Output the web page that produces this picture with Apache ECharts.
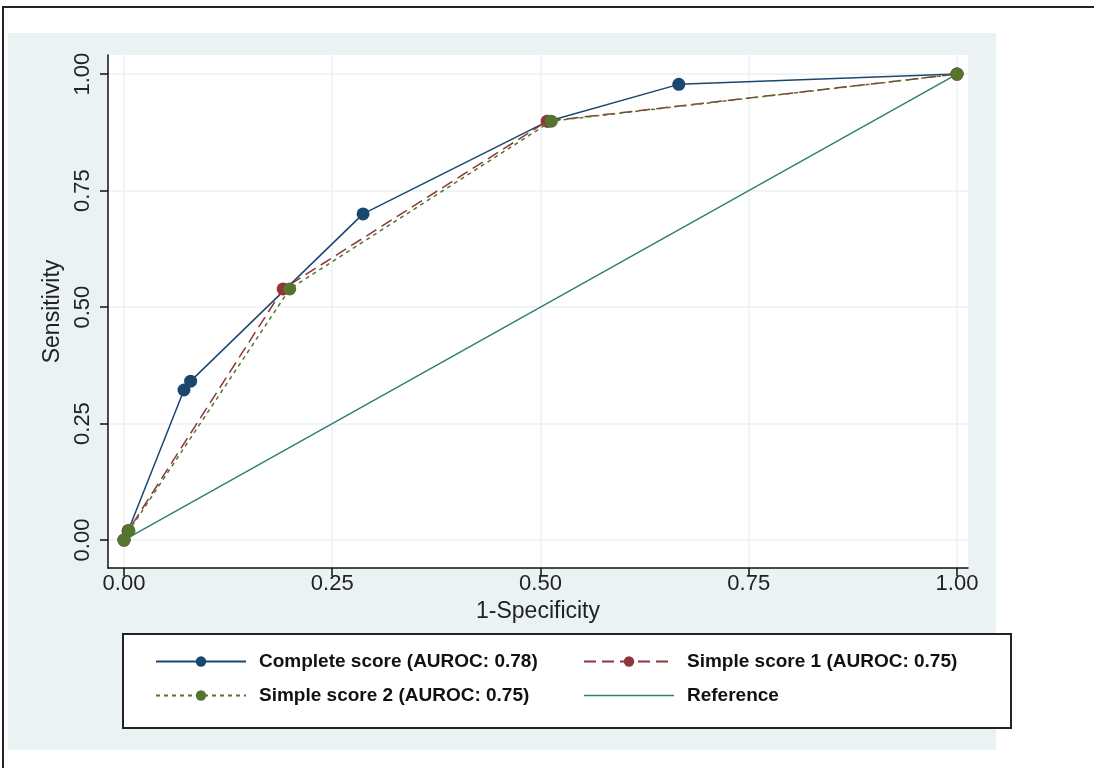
<!DOCTYPE html>
<html>
<head>
<meta charset="utf-8">
<title>ROC curves</title>
<script src="https://cdn.jsdelivr.net/npm/echarts@6/dist/echarts.min.js"></script>
<style>
    html, body { margin: 0; padding: 0; background: #fff; }
    #roc { width: 1094px; height: 768px; }
</style>
</head>
<body>
<div id="roc"></div>
<script>

// Chart data
// ------------------------------

var tickValues = [0, 0.25, 0.5, 0.75, 1];

var completeFpr = [0, 0.005, 0.072, 0.080, 0.287, 0.509, 0.666, 1];
var completeTpr = [0, 0.020, 0.322, 0.341, 0.700, 0.899, 0.978, 1];

var simple1Fpr = [0, 0.005, 0.191, 0.508, 1];
var simple1Tpr = [0, 0.020, 0.539, 0.899, 1];

var simple2Fpr = [0, 0.006, 0.199, 0.513, 1];
var simple2Tpr = [0, 0.020, 0.539, 0.899, 1];

var referenceFpr = [0, 1];
var referenceTpr = [0, 1];

var seriesNames = [
    'Complete score (AUROC: 0.78)',
    'Simple score 1 (AUROC: 0.75)',
    'Simple score 2 (AUROC: 0.75)',
    'Reference'
];


// Setup module
// ------------------------------

var RocCurves = function() {

    // zip x and y arrays into points
    var pairs = function(xs, ys) {
        return xs.map(function(x, i) { return [x, ys[i]]; });
    };

    var _rocChart = function() {
        if (typeof echarts == 'undefined') {
            console.warn('Warning - echarts.min.js is not loaded.');
            return;
        }

        var roc_element = document.getElementById('roc');
        if (!roc_element) return;

        var roc = echarts.init(roc_element);

        var axisFont = 'Liberation Sans, Arial, sans-serif';
        var legendText = {
            fontFamily: 'Liberation Sans, Arial, sans-serif',
            fontWeight: 'bold',
            fontSize: 19,
            color: '#111',
            padding: [0, 0, 0, 8]
        };
        var legendCommon = {
            orient: 'vertical',
            top: 652,
            padding: 0,
            itemWidth: 90,
            itemHeight: 13,
            itemGap: 15,
            textStyle: legendText
        };

        roc.setOption({

            animation: false,

            color: ['#1a476f', '#90353b', '#55752f', '#2f8073'],

            // Background, frame and legend box
            graphic: [
                {
                    type: 'rect', z: -10, silent: true,
                    shape: { x: 8, y: 33, width: 988, height: 717 },
                    style: { fill: '#eaf2f3' }
                },
                {
                    type: 'polyline', z: -10, silent: true,
                    shape: { points: [[3, 768], [3, 7], [1094, 7]] },
                    style: { stroke: '#222', lineWidth: 2, fill: null }
                },
                {
                    type: 'rect', z: 0, silent: true,
                    shape: { x: 123, y: 634, width: 888, height: 94 },
                    style: { fill: '#fff', stroke: '#222', lineWidth: 2 }
                }
            ],

            grid: {
                left: 108,
                right: 1094 - 968,
                top: 55,
                bottom: 768 - 568,
                show: true,
                backgroundColor: '#fff',
                borderWidth: 0
            },

            // Two legend columns
            legend: [
                Object.assign({}, legendCommon, {
                    left: 155,
                    data: [seriesNames[0], seriesNames[2]]
                }),
                Object.assign({}, legendCommon, {
                    left: 583,
                    data: [
                        seriesNames[1],
                        {
                            name: seriesNames[3],
                            icon: 'path://M0,0 L100,0 L100,1.6 L0,1.6 Z'
                        }
                    ]
                })
            ],

            xAxis: {
                type: 'value',
                min: -0.0192,
                max: 1.0132,
                name: '1-Specificity',
                nameLocation: 'middle',
                nameGap: 29,
                nameTextStyle: { fontFamily: axisFont, fontSize: 23, color: '#222' },
                axisLine: { onZero: false, lineStyle: { color: '#111', width: 1.5 } },
                axisTick: {
                    customValues: tickValues,
                    length: 8,
                    lineStyle: { color: '#111', width: 1.5 }
                },
                axisLabel: {
                    customValues: tickValues,
                    margin: 5,
                    fontFamily: axisFont,
                    fontSize: 22,
                    color: '#222',
                    formatter: function(v) { return v.toFixed(2); }
                },
                splitLine: { lineStyle: { color: '#eaf2f3', width: 1.5 } }
            },

            yAxis: {
                type: 'value',
                min: -0.060,
                max: 1.041,
                name: 'Sensitivity',
                nameLocation: 'middle',
                nameRotate: 90,
                nameGap: 44,
                nameTextStyle: { fontFamily: axisFont, fontSize: 23, color: '#222' },
                axisLine: { show: true, onZero: false, lineStyle: { color: '#111', width: 1.5 } },
                axisTick: {
                    show: true,
                    customValues: tickValues,
                    length: 8,
                    lineStyle: { color: '#111', width: 1.5 }
                },
                axisLabel: {
                    customValues: tickValues,
                    rotate: 90,
                    margin: 14,
                    fontFamily: axisFont,
                    fontSize: 22,
                    color: '#222',
                    formatter: function(v) { return v.toFixed(2); }
                },
                splitLine: { lineStyle: { color: '#eaf2f3', width: 1.5 } }
            },

            series: [
                {
                    name: seriesNames[0],
                    type: 'line',
                    z: 4,
                    data: pairs(completeFpr, completeTpr),
                    symbol: 'circle',
                    symbolSize: 13,
                    lineStyle: { width: 1.5 }
                },
                {
                    name: seriesNames[1],
                    type: 'line',
                    z: 5,
                    data: pairs(simple1Fpr, simple1Tpr),
                    symbol: 'circle',
                    symbolSize: 13,
                    lineStyle: { width: 1.5, type: [12, 6] }
                },
                {
                    name: seriesNames[2],
                    type: 'line',
                    z: 6,
                    data: pairs(simple2Fpr, simple2Tpr),
                    symbol: 'circle',
                    symbolSize: 13,
                    lineStyle: { width: 1.5, type: [4, 4] }
                },
                {
                    name: seriesNames[3],
                    type: 'line',
                    z: 3,
                    data: pairs(referenceFpr, referenceTpr),
                    symbol: 'none',
                    lineStyle: { width: 1.5 }
                }
            ]
        });
    };

    return {
        init: function() {
            _rocChart();
        }
    }
}();


// Initialize module
// ------------------------------

document.addEventListener('DOMContentLoaded', function() {
    RocCurves.init();
});
</script>
</body>
</html>
